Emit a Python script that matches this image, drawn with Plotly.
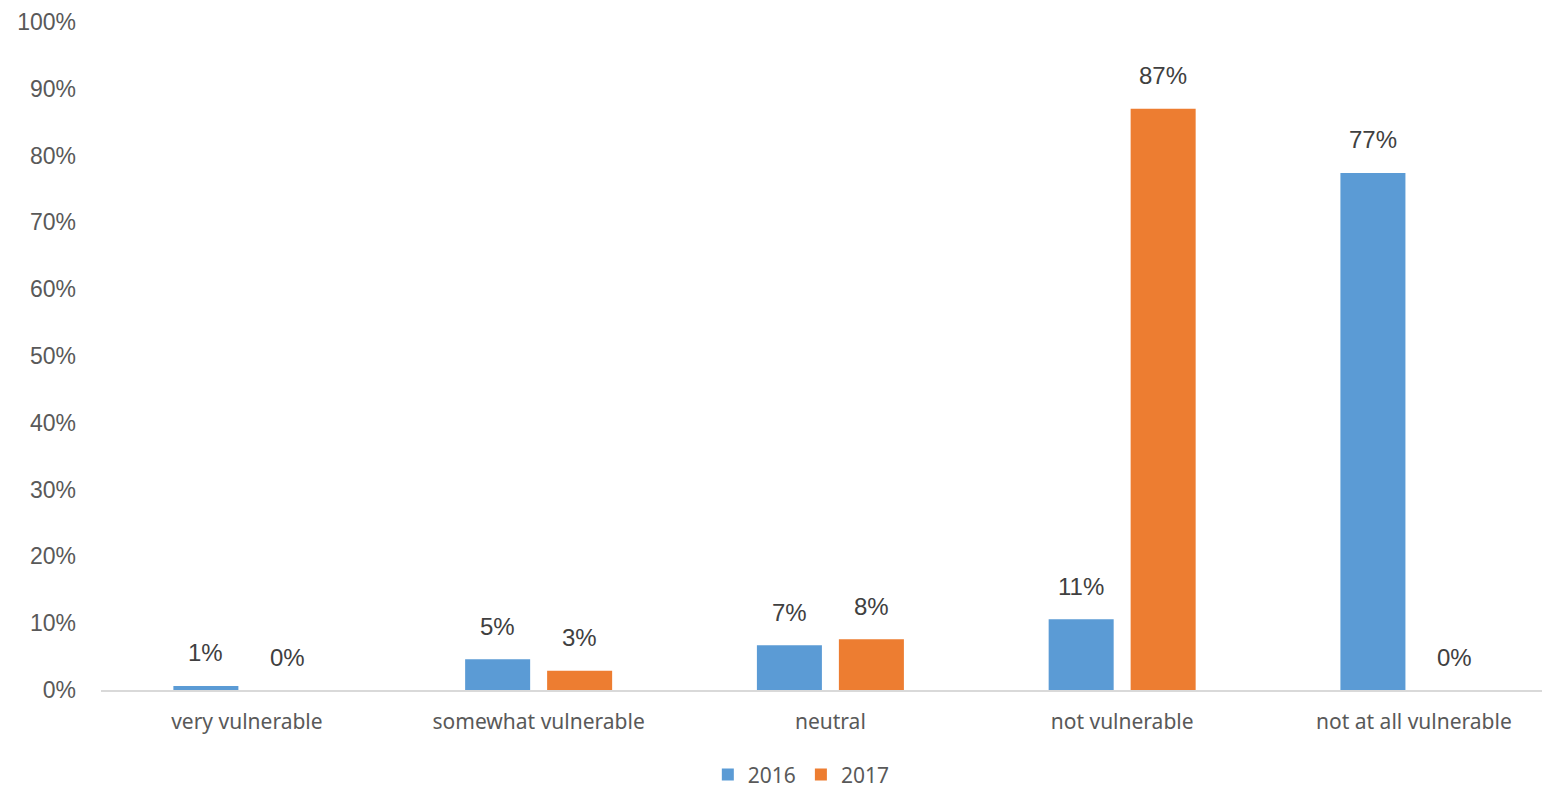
import plotly.graph_objects as go

categories = ["very vulnerable", "somewhat vulnerable", "neutral", "not vulnerable", "not at all vulnerable"]
years = ["2016", "2017"]
values_2016 = [0.6, 4.6, 6.7, 10.6, 77.4]
values_2017 = [0.0, 2.9, 7.6, 87.0, 0.0]
y_ticks = list(range(0, 101, 10))

colors = {"2016": "#5B9BD5", "2017": "#ED7D31"}
series = {"2016": values_2016, "2017": values_2017}

fig = go.Figure()
for yr in years:
    fig.add_trace(go.Bar(
        x=categories, y=series[yr], name=yr,
        marker=dict(color=colors[yr], line=dict(width=0)),
    ))

# value labels above each bar, shifted to the bar's slot within its group
slot_shift = {"2016": -41, "2017": 41}
for yr in years:
    for cat, v in zip(categories, series[yr]):
        fig.add_annotation(
            x=cat, y=v, xref="x", yref="y",
            text=f"{v:.0f}%", showarrow=False,
            xshift=slot_shift[yr], yshift=33, yanchor="middle",
            font=dict(family="Liberation Sans, Arial", size=24, color="#404040"),
        )

fig.update_layout(
    width=1542, height=790,
    margin=dict(l=101, r=0, t=22, b=100, autoexpand=False),
    paper_bgcolor="white", plot_bgcolor="white",
    barmode="group", bargap=0.438, bargroupgap=0.207,
    showlegend=True,
    legend=dict(
        orientation="h", x=0.486, xanchor="center",
        y=-0.127, yanchor="middle",
        font=dict(family="Noto Sans", size=21, color="#595959"),
        itemwidth=30, tracegroupgap=0,
    ),
)
fig.update_yaxes(
    range=[0, 100], tickvals=y_ticks, ticktext=[f"{t}%" for t in y_ticks],
    showgrid=False, zeroline=False, showline=False, automargin=False,
    ticklabelstandoff=24,
    tickfont=dict(family="Liberation Sans, Arial", size=23, color="#595959"),
)
fig.update_xaxes(
    range=[-0.5, 4.439], automargin=False,
    showgrid=False, showline=True, linecolor="#D9D9D9", linewidth=2,
    ticks="", ticklabelstandoff=12,
    tickfont=dict(family="Noto Sans", size=21, color="#595959"),
)

fig.write_html("out.html")
